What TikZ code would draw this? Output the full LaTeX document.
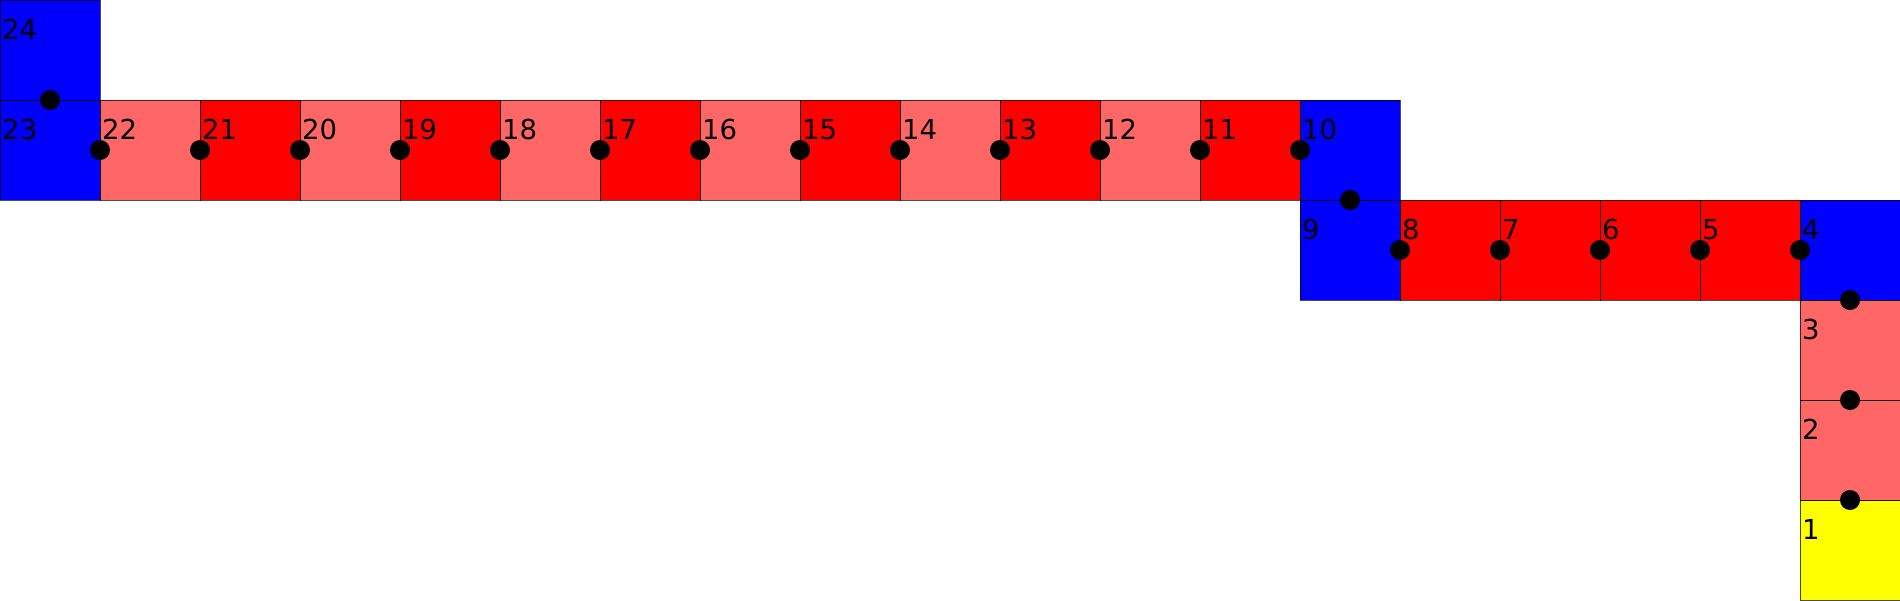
\documentclass[tikz,border=0pt]{standalone}
\usepackage{fontspec}
\setmainfont{DejaVu Sans}
\definecolor{cblue}{HTML}{0000FF}
\definecolor{cred}{HTML}{FF0000}
\definecolor{clight}{HTML}{FF6666}
\definecolor{cyel}{HTML}{FFFF00}
\tikzset{
  cell/.style={draw=black, draw opacity=0.7, line width=1pt, minimum size=100pt, inner sep=0pt, outer sep=0pt, fill=#1},
  joint/.style={circle, fill=black, minimum size=20pt, inner sep=0pt},
  num/.style={anchor=base west, inner sep=0pt, font=\fontsize{27.5}{30}\selectfont}
}
\begin{document}
\begin{tikzpicture}[x=1pt,y=-1pt]
\useasboundingbox (0,0) rectangle (1900,600);
\foreach \n/\c/\r/\col in {1/18/5/cyel,2/18/4/clight,3/18/3/clight,4/18/2/cblue,5/17/2/cred,6/16/2/cred,7/15/2/cred,8/14/2/cred,9/13/2/cblue,10/13/1/cblue,11/12/1/cred,12/11/1/clight,13/10/1/cred,14/9/1/clight,15/8/1/cred,16/7/1/clight,17/6/1/cred,18/5/1/clight,19/4/1/cred,20/3/1/clight,21/2/1/cred,22/1/1/clight,23/0/1/cblue,24/0/0/cblue}{
  \node[cell=\col] (s\n) at (100*\c+50,100*\r+50) {};
}
\foreach \a in {s1.north,s2.north,s3.north,s4.west,s5.west,s6.west,s7.west,s8.west,s9.north,s10.west,s11.west,s12.west,s13.west,s14.west,s15.west,s16.west,s17.west,s18.west,s19.west,s20.west,s21.west,s22.west,s23.north}{
  \node[joint] at (\a) {};
}
\foreach \n in {1,...,24}{
  \node[num] (t\n) at ([shift={(2pt,-39pt)}]s\n.north west) {\n};
}
\end{tikzpicture}
\end{document}
